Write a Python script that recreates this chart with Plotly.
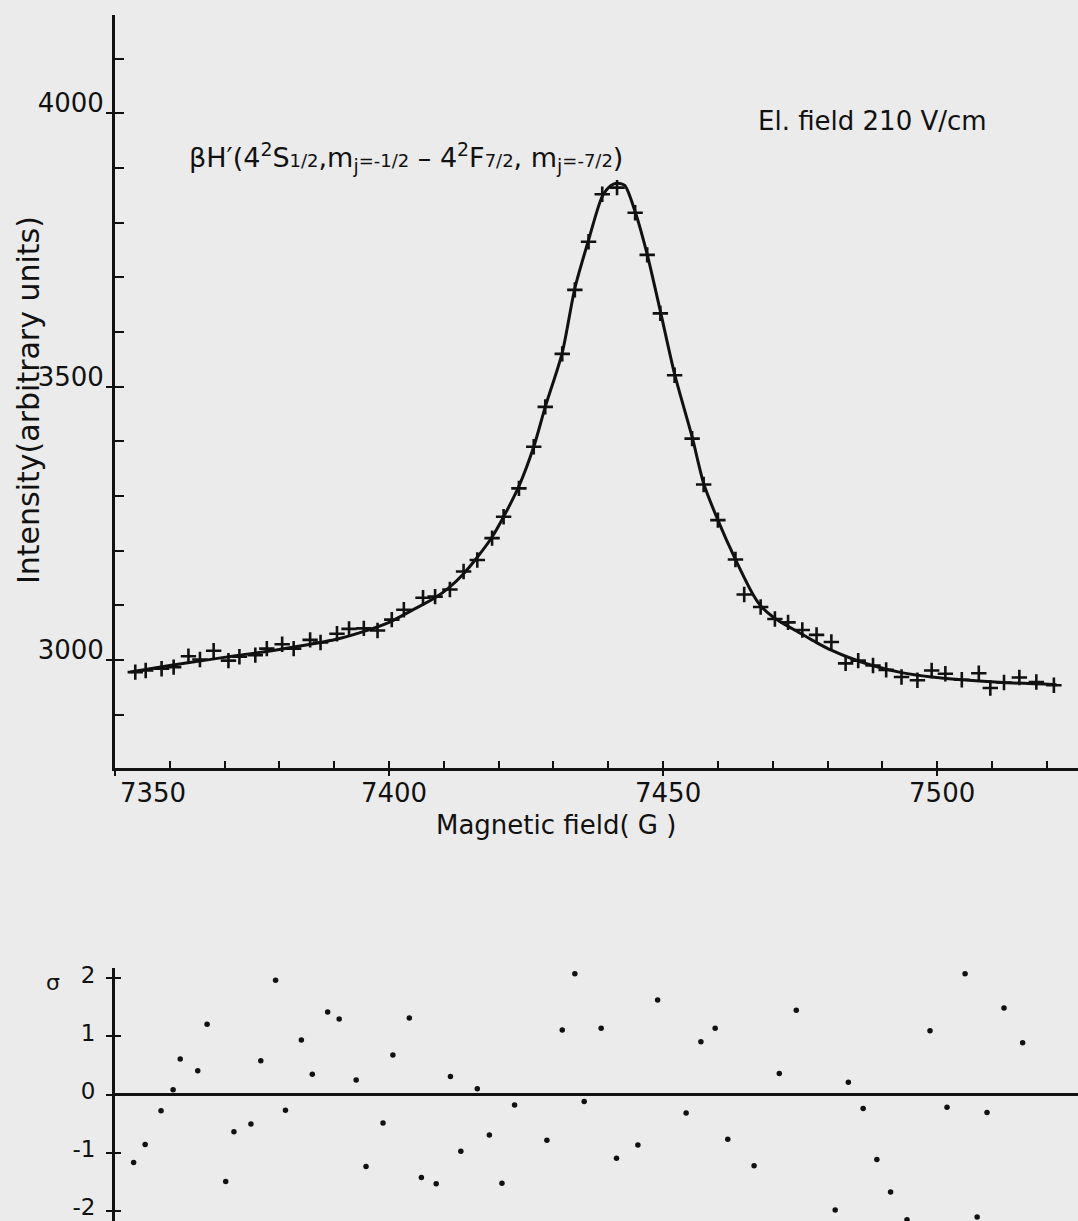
import plotly.graph_objects as go

# ---------------- data ----------------
field_G = [7353.7, 7355.6, 7358.5, 7360.7, 7363.4, 7365.5, 7368.0, 7370.7, 7372.7, 7375.6,
           7377.7, 7380.5, 7382.6, 7385.6, 7387.5, 7390.5, 7392.7, 7395.4, 7397.9, 7400.5,
           7402.7, 7406.2, 7408.4, 7411.1, 7413.6, 7416.1, 7418.8, 7420.9, 7423.7, 7426.4,
           7428.5, 7431.6, 7433.9, 7436.4, 7438.9, 7441.6, 7444.9, 7447.1, 7449.5, 7452.1,
           7455.3, 7457.4, 7460.0, 7463.2, 7464.8, 7467.8, 7470.4, 7472.8, 7475.4, 7478.0,
           7480.7, 7483.3, 7485.6, 7488.3, 7490.7, 7493.5, 7496.4, 7499.0, 7501.5, 7504.5,
           7507.6, 7509.7, 7512.2, 7515.0, 7518.1, 7521.3]
intensity = [2978, 2981, 2984, 2987, 3007, 3001, 3017, 2999, 3006, 3009,
             3021, 3029, 3021, 3037, 3032, 3048, 3057, 3058, 3054, 3074,
             3092, 3114, 3116, 3129, 3162, 3183, 3223, 3262, 3314, 3390,
             3463, 3560, 3677, 3765, 3852, 3864, 3818, 3741, 3634, 3521,
             3405, 3321, 3256, 3184, 3120, 3097, 3075, 3069, 3055, 3046,
             3033, 2994, 2999, 2990, 2982, 2969, 2963, 2981, 2975, 2964,
             2976, 2949, 2959, 2968, 2960, 2954]

fit_G = [7352.8, 7360, 7366, 7372, 7378, 7384, 7390, 7395, 7400, 7404,
         7408.4, 7411, 7413.6, 7416.1, 7418.8, 7420.9, 7423.7, 7426.4, 7428.5, 7431.6,
         7433.9, 7436.4, 7438.9, 7440.5, 7441.6, 7443, 7444.9, 7447.1, 7449.5, 7452.1,
         7455.3, 7457.4, 7460, 7463.2, 7466.4, 7468, 7470.3, 7475.4, 7478, 7480.7,
         7483.3, 7488.2, 7493.5, 7499, 7504.5, 7512, 7521.8]
fit_I = [2978, 2990, 2999, 3008, 3016, 3026, 3037, 3051, 3069, 3090,
         3114, 3133, 3158, 3188, 3225, 3262, 3318, 3390, 3463, 3562,
         3680, 3768, 3848, 3868, 3872, 3868, 3820, 3742, 3638, 3523,
         3408, 3323, 3256, 3184, 3120, 3097, 3077, 3047, 3032, 3018,
         3007, 2990, 2977, 2969, 2964, 2959, 2955]

res_G = [7353.4, 7355.5, 7358.4, 7360.6, 7361.9, 7365.1, 7366.8, 7370.2, 7371.7, 7374.8,
         7376.6, 7379.3, 7381.1, 7384.0, 7386.0, 7388.8, 7390.9, 7394.0, 7395.8, 7398.9,
         7400.7, 7403.7, 7405.9, 7408.6, 7411.2, 7413.1, 7416.1, 7418.3, 7420.6, 7422.9,
         7428.8, 7431.6, 7433.9, 7435.6, 7438.7, 7441.5, 7445.4, 7449.0, 7454.2, 7456.9,
         7459.5, 7461.8, 7466.6, 7471.2, 7474.3, 7481.4, 7483.8, 7486.5, 7489.0, 7491.5,
         7494.5, 7498.7, 7501.8, 7505.1, 7507.3, 7509.1, 7512.2, 7515.6]
res_sigma = [-1.17, -0.86, -0.28, 0.08, 0.61, 0.41, 1.21, -1.50, -0.64, -0.51,
             0.58, 1.97, -0.27, 0.94, 0.35, 1.42, 1.30, 0.25, -1.24, -0.49,
             0.68, 1.32, -1.43, -1.54, 0.31, -0.98, 0.10, -0.70, -1.53, -0.18,
             -0.79, 1.11, 2.08, -0.12, 1.14, -1.10, -0.87, 1.63, -0.32, 0.91,
             1.14, -0.77, -1.23, 0.36, 1.45, -1.99, 0.21, -0.24, -1.12, -1.68,
             -2.16, 1.10, -0.22, 2.08, -2.11, -0.31, 1.49, 0.89]

x_ticks = [7350, 7400, 7450, 7500]
x_ticktext = ["\u00a0" * 8 + "7350", "7400", "7450", "7500"]
y_ticks = [3000, 3500, 4000]
sigma_ticks = [-2, -1, 0, 1, 2]
sigma_ticktext = ["-2", "-1", "0", "1", "2"]

# ---------------- layout constants ----------------
W, H = 1078, 1221
INK = "#111111"
BG = "#ebebeb"
FONT = "DejaVu Sans"
x_range = [7350, 7525.7]
y_range = [2802.6, 4179.7]
s_range = [-2.18, 2.18]
x_dom = [115 / W, 1.0]
top_dom = [1 - 768 / H, 1 - 15 / H]
bot_dom = [0.0, 1 - 968 / H]

fig = go.Figure()

# fitted curve
fig.add_trace(go.Scatter(x=fit_G, y=fit_I, mode="lines",
                         line=dict(color=INK, width=3, shape="spline", smoothing=0.7),
                         xaxis="x", yaxis="y", hoverinfo="skip"))
# measured points
fig.add_trace(go.Scatter(x=field_G, y=intensity, mode="markers",
                         marker=dict(symbol="cross-thin", size=11,
                                     line=dict(color=INK, width=2.6)),
                         xaxis="x", yaxis="y"))
# residuals
fig.add_trace(go.Scatter(x=res_G, y=res_sigma, mode="markers",
                         marker=dict(symbol="circle", size=5.5, color=INK),
                         xaxis="x2", yaxis="y2"))
# empty traces that create the overlay axes carrying extra tick marks
fig.add_trace(go.Scatter(x=[], y=[], xaxis="x3", yaxis="y", showlegend=False))
fig.add_trace(go.Scatter(x=[], y=[], xaxis="x4", yaxis="y", showlegend=False))
fig.add_trace(go.Scatter(x=[], y=[], xaxis="x", yaxis="y3", showlegend=False))
fig.add_trace(go.Scatter(x=[], y=[], xaxis="x", yaxis="y5", showlegend=False))
fig.add_trace(go.Scatter(x=[], y=[], xaxis="x2", yaxis="y4", showlegend=False))

tick_style = dict(showline=False, showgrid=False, zeroline=False, showticklabels=False,
                  tickwidth=2, tickcolor=INK, automargin=False)

fig.update_layout(
    width=W, height=H,
    margin=dict(l=0, r=0, t=0, b=0, autoexpand=False),
    paper_bgcolor=BG, plot_bgcolor=BG,
    showlegend=False,
    font=dict(family=FONT, color=INK),
    # top panel: labelled axes
    xaxis=dict(domain=x_dom, range=x_range, anchor="y", automargin=False,
               showline=True, linewidth=3, linecolor=INK, showgrid=False, zeroline=False,
               ticks="", tickvals=x_ticks, ticktext=x_ticktext,
               tickfont=dict(family=FONT, size=26, color=INK),
               ticklabelshift=5, ticklabelstandoff=0),
    yaxis=dict(domain=top_dom, range=y_range, anchor="x", automargin=False,
               showline=True, linewidth=3, linecolor=INK, showgrid=False, zeroline=False,
               ticks="", tickvals=y_ticks, tickfont=dict(family=FONT, size=26, color=INK),
               ticklabelshift=-10, ticklabelstandoff=3),
    # inner minor ticks (every 10 G / every 100 units)
    xaxis3=dict(overlaying="x", anchor="y", range=x_range, domain=x_dom,
                ticks="inside", tick0=7350, dtick=10, ticklen=7, **tick_style),
    yaxis3=dict(overlaying="y", anchor="x", range=y_range, domain=top_dom,
                ticks="inside", tick0=3000, dtick=100, ticklen=9, **tick_style),
    # outer major ticks
    xaxis4=dict(overlaying="x", anchor="y", range=x_range, domain=x_dom,
                ticks="outside", tickvals=x_ticks, ticklen=7, **tick_style),
    yaxis5=dict(overlaying="y", anchor="x", range=y_range, domain=top_dom,
                ticks="outside", tickvals=y_ticks, ticklen=8, **tick_style),
    # residual panel
    xaxis2=dict(domain=x_dom, range=x_range, anchor="y2", automargin=False,
                showline=False, showgrid=False, zeroline=False, showticklabels=False,
                ticks=""),
    yaxis2=dict(domain=bot_dom, range=s_range, anchor="x2", automargin=False,
                showline=True, linewidth=3, linecolor=INK, showgrid=False,
                zeroline=True, zerolinewidth=3, zerolinecolor=INK,
                ticks="outside", ticklen=6, tickwidth=2, tickcolor=INK,
                tickvals=sigma_ticks, ticktext=sigma_ticktext,
                tickfont=dict(family=FONT, size=23, color=INK),
                ticklabelstandoff=6, ticklabelshift=-4, ticklabeloverflow="allow"),
    yaxis4=dict(overlaying="y2", anchor="x2", range=s_range, domain=bot_dom,
                ticks="inside", tickvals=sigma_ticks, ticklen=6, **tick_style),
)

small = "font-size:18px"
label = ("βH′(4<sup>2</sup>S<span style='%s'>1/2</span>,m<sub>j</sub>"
         "<span style='%s'>=-1/2</span> – 4<sup>2</sup>F<span style='%s'>7/2</span>,"
         " m<sub>j</sub><span style='%s'>=-7/2</span>)") % (small, small, small, small)

fig.add_annotation(x=406 / W, y=1 - 158 / H, xref="paper", yref="paper",
                   text=label, showarrow=False, xanchor="center", yanchor="middle",
                   font=dict(family=FONT, size=27, color=INK))
fig.add_annotation(x=872 / W, y=1 - 121 / H, xref="paper", yref="paper",
                   text="El. field 210 V/cm", showarrow=False,
                   xanchor="center", yanchor="middle",
                   font=dict(family=FONT, size=26, color=INK))
fig.add_annotation(x=556 / W, y=1 - 825 / H, xref="paper", yref="paper",
                   text="Magnetic field( G )", showarrow=False,
                   xanchor="center", yanchor="middle",
                   font=dict(family=FONT, size=26, color=INK))
fig.add_annotation(x=28 / W, y=1 - 400 / H, xref="paper", yref="paper",
                   text="Intensity(arbitrary units)", showarrow=False, textangle=-90,
                   xanchor="center", yanchor="middle",
                   font=dict(family=FONT, size=30, color=INK))
fig.add_annotation(x=53 / W, y=1 - 982 / H, xref="paper", yref="paper",
                   text="σ", showarrow=False, xanchor="center", yanchor="middle",
                   font=dict(family=FONT, size=22, color=INK))

fig.write_html("out.html")
